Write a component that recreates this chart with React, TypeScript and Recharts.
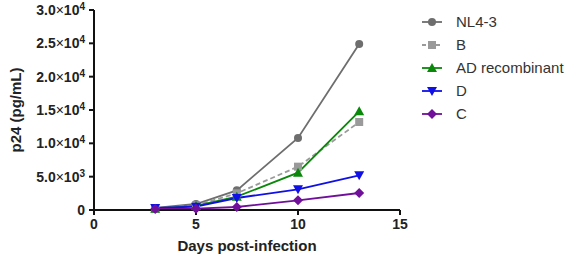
import { LineChart, Line, XAxis, YAxis } from "recharts";

const days = [3, 5, 7, 10, 13];
const nl43 = [300, 900, 2950, 10800, 24900];
const subB = [200, 700, 2500, 6500, 13200];
const adRec = [200, 600, 2000, 5600, 14800];
const subD = [300, 500, 1800, 3100, 5200];
const subC = [150, 200, 450, 1450, 2550];

const xTicks = [0, 5, 10, 15];
const yTicks = [0, 5000, 10000, 15000, 20000, 25000, 30000];

const series = [
  { key: "nl43", name: "NL4-3", color: "#6e6e6e", shape: "circle", dash: undefined },
  { key: "b", name: "B", color: "#9a9a9a", shape: "square", dash: "5 3" },
  { key: "ad", name: "AD recombinant", color: "#0a880a", shape: "triangle", dash: undefined },
  { key: "d", name: "D", color: "#1010e6", shape: "down", dash: undefined },
  { key: "c", name: "C", color: "#70109a", shape: "diamond", dash: undefined },
];

const data = days.map((d, i) => ({
  day: d,
  nl43: nl43[i],
  b: subB[i],
  ad: adRec[i],
  d: subD[i],
  c: subC[i],
}));

const font = "'Liberation Sans', Arial, sans-serif";

function Marker({ shape, x, y, color }: { shape: string; x: number; y: number; color: string }) {
  if (shape === "circle") return <circle cx={x} cy={y} r={4} fill={color} />;
  if (shape === "square") return <rect x={x - 4} y={y - 4} width={8} height={8} fill={color} />;
  if (shape === "triangle")
    return <polygon points={`${x},${y - 5} ${x + 5},${y + 4} ${x - 5},${y + 4}`} fill={color} />;
  if (shape === "down")
    return <polygon points={`${x - 5},${y - 4} ${x + 5},${y - 4} ${x},${y + 5}`} fill={color} />;
  return <polygon points={`${x},${y - 5} ${x + 5},${y} ${x},${y + 5} ${x - 5},${y}`} fill={color} />;
}

function YTick(props: any) {
  const { x, y, payload } = props;
  const v = payload.value as number;
  if (v === 0)
    return (
      <text x={x - 2} y={y + 5} textAnchor="end" fontFamily={font} fontWeight="bold" fontSize={14} fill="#222">
        0
      </text>
    );
  const exp = Math.floor(Math.log10(v));
  const m = (v / Math.pow(10, exp)).toFixed(1);
  return (
    <text x={x - 2} y={y + 5} textAnchor="end" fontFamily={font} fontWeight="bold" fontSize={14} fill="#222">
      {m}
      <tspan fontWeight="normal">×</tspan>
      10
      <tspan dy={-5} fontSize={10}>
        {exp}
      </tspan>
    </text>
  );
}

const App = () => {
  return (
    <div style={{ position: "absolute", left: 0, top: 0, width: 586, height: 260, background: "#fff" }}>
      <LineChart width={586} height={260} data={data} margin={{ top: 10, right: 186, bottom: 0, left: 0 }}>
        <XAxis
          dataKey="day"
          type="number"
          domain={[0, 15]}
          ticks={xTicks}
          height={50}
          stroke="#111"
          strokeWidth={2}
          tickSize={5}
          tick={{ fontFamily: font, fontWeight: "bold", fontSize: 14, fill: "#222", dy: 2 }}
          label={{
            value: "Days post-infection",
            position: "insideBottom",
            offset: 9,
            style: { fontFamily: font, fontWeight: "bold", fontSize: 15, fill: "#222" },
          }}
        />
        <YAxis
          type="number"
          domain={[0, 30000]}
          ticks={yTicks}
          width={94}
          stroke="#111"
          strokeWidth={2}
          tickSize={5}
          interval={0}
          tick={<YTick />}
          label={{
            value: "p24 (pg/mL)",
            angle: -90,
            position: "insideLeft",
            offset: 16,
            style: { fontFamily: font, fontWeight: "bold", fontSize: 15, fill: "#222", textAnchor: "middle" },
          }}
        />
        {series.map((s) => (
          <Line
            key={s.key}
            dataKey={s.key}
            name={s.name}
            stroke={s.color}
            strokeWidth={1.8}
            strokeDasharray={s.dash}
            isAnimationActive={false}
            dot={(p: any) => <Marker key={`${s.key}-${p.index}`} shape={s.shape} x={p.cx} y={p.cy} color={s.color} />}
            activeDot={false}
          />
        ))}
      </LineChart>
      <svg width={170} height={130} style={{ position: "absolute", left: 416, top: 10 }}>
        {series.map((s, i) => {
          const y = 12 + i * 23;
          return (
            <g key={s.key}>
              <line x1={6} x2={26} y1={y} y2={y} stroke={s.color} strokeWidth={1.8} strokeDasharray={s.dash ? "4 3" : undefined} />
              <Marker shape={s.shape} x={16} y={y} color={s.color} />
              <text x={40} y={y + 5} fontFamily={font} fontSize={15} fill="#333">
                {s.name}
              </text>
            </g>
          );
        })}
      </svg>
    </div>
  );
};

export default App;
